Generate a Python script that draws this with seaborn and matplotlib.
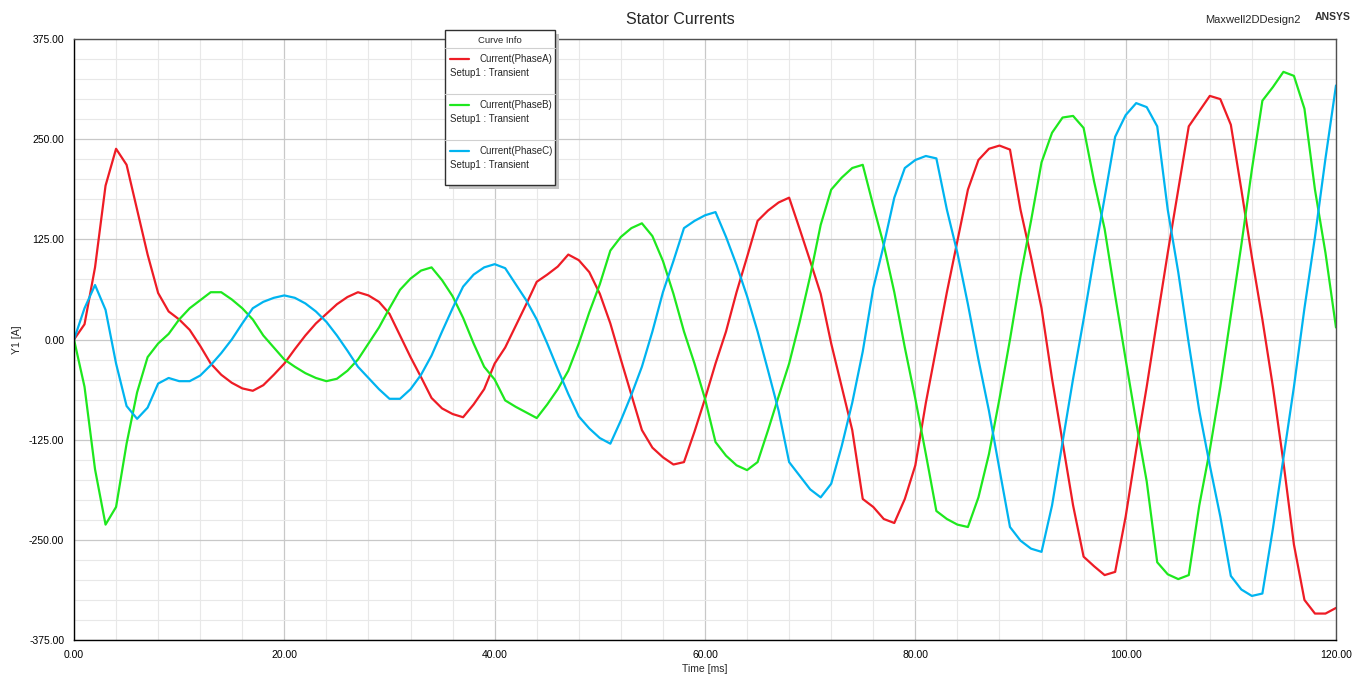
import numpy as np
import pandas as pd
import seaborn as sns
import matplotlib.pyplot as plt
from matplotlib.patches import Rectangle
from matplotlib.ticker import MultipleLocator, FormatStrFormatter

# sample times [ms], one sample per ms
time_ms = np.arange(0, 121)

# currents, [A]
phase_a = [0, 19, 90, 192, 238, 218, 162, 106, 58, 35, 25, 12, -8, -30, -44, -54, -61, -64, -57, -44,
           -30, -12, 5, 20, 32, 44, 53, 59, 55, 47, 32, 5, -22, -47, -73, -86, -93, -97, -81, -62,
           -30, -10, 17, 44, 72, 81, 91, 106, 99, 84, 57, 20, -25, -69, -113, -135, -147, -156, -153, -115,
           -74, -30, 10, 59, 103, 148, 161, 171, 177, 138, 98, 57, -5, -59, -113, -199, -209, -224, -229, -199,
           -157, -79, -10, 59, 123, 187, 224, 238, 242, 237, 162, 103, 39, -49, -128, -207, -271, -283, -294, -290,
           -221, -138, -59, 25, 108, 187, 266, 285, 304, 300, 268, 187, 103, 25, -59, -153, -256, -325, -342, -342, -335]
phase_b = [0, -59, -162, -231, -209, -130, -66, -22, -5, 7, 25, 39, 49, 59, 59, 50, 39, 25, 5, -10,
           -25, -34, -42, -48, -52, -49, -39, -25, -5, 15, 39, 62, 76, 86, 90, 74, 54, 27, -5, -34,
           -50, -76, -84, -91, -98, -81, -62, -39, -5, 34, 69, 111, 128, 139, 145, 129, 98, 57, 10, -30,
           -74, -128, -145, -157, -163, -153, -113, -71, -30, 22, 79, 143, 187, 202, 214, 218, 167, 118, 59, -10,
           -74, -143, -214, -224, -231, -234, -197, -143, -74, 0, 79, 148, 221, 258, 277, 279, 264, 197, 138, 55,
           -25, -103, -177, -278, -293, -299, -294, -207, -138, -59, 30, 118, 212, 298, 315, 334, 329, 288, 187, 108, 15]
phase_c = [0, 39, 68, 37, -30, -83, -99, -85, -55, -48, -52, -52, -45, -32, -17, 0, 20, 39, 47, 52,
           55, 52, 45, 35, 22, 5, -14, -34, -48, -62, -74, -74, -62, -44, -20, 10, 39, 66, 81, 90,
           94, 89, 69, 49, 25, -5, -37, -68, -96, -111, -123, -130, -101, -69, -34, 10, 59, 98, 139, 148,
           155, 159, 128, 93, 54, 10, -39, -89, -153, -170, -187, -197, -180, -133, -79, -15, 64, 118, 177, 214,
           224, 229, 226, 162, 108, 44, -25, -89, -162, -234, -251, -261, -265, -207, -128, -49, 25, 103, 177, 253,
           280, 295, 290, 266, 162, 84, -5, -89, -157, -221, -295, -312, -320, -317, -236, -148, -59, 39, 128, 226, 317]

curve_names = ["Current(PhaseA)", "Current(PhaseB)", "Current(PhaseC)"]
curve_colors = ["#ee1c25", "#1ee81e", "#00b4f0"]

df = pd.DataFrame({
    "time": np.tile(time_ms, 3),
    "current": phase_a + phase_b + phase_c,
    "curve": np.repeat(curve_names, len(time_ms)),
})

sns.set_style("white")
plt.rcParams['font.family'] = ['Liberation Sans', 'DejaVu Sans']

fig = plt.figure(figsize=(13.55, 6.81), dpi=100)
ax = fig.add_axes([74 / 1355, 1 - 640 / 681, (1336 - 74) / 1355, (640 - 39) / 681])

sns.lineplot(data=df, x="time", y="current", hue="curve", palette=curve_colors,
             linewidth=1.6, legend=False, ax=ax)

ax.set_xlim(0, 120)
ax.set_ylim(-375, 375)
ax.xaxis.set_major_locator(MultipleLocator(20))
ax.xaxis.set_minor_locator(MultipleLocator(4))
ax.yaxis.set_major_locator(MultipleLocator(125))
ax.yaxis.set_minor_locator(MultipleLocator(25))
ax.xaxis.set_major_formatter(FormatStrFormatter("%.2f"))
ax.yaxis.set_major_formatter(FormatStrFormatter("%.2f"))
ax.grid(which="major", color="#c8c8c8", linewidth=0.9)
ax.grid(which="minor", color="#e8e8e8", linewidth=0.8)
ax.set_axisbelow(True)
ax.tick_params(which="both", direction="out", labelsize=7.5, colors="#000000", pad=2)
ax.tick_params(which="major", length=5, width=0.8)
ax.tick_params(which="minor", length=4, width=0.8)
ax.tick_params(axis="x", which="both", length=5)
ax.set_xlabel("Time [ms]", fontsize=7.5, labelpad=3)
ax.set_ylabel("Y1 [A]", fontsize=7.5, labelpad=5)
for side in ["left", "bottom"]:
    ax.spines[side].set_color("#000000")
for side in ["top", "right"]:
    ax.spines[side].set_color("#505050")
for s in ax.spines.values():
    s.set_linewidth(1.0)

# header texts
fig.text(680 / 1355, 1 - 20 / 681, "Stator Currents", ha="center", va="center", fontsize=11.5)
fig.text(1205 / 1355, 1 - 20 / 681, "Maxwell2DDesign2", ha="left", va="center", fontsize=8)
fig.text(1315 / 1355, 1 - 17 / 681, "ANSYS", ha="left", va="center", fontsize=7.5,
         fontweight="bold", color="#333333")

# "Curve Info" box drawn in pixel coordinates on an overlay
ov = fig.add_axes([0, 0, 1, 1], zorder=5)
ov.set_xlim(0, 1355)
ov.set_ylim(681, 0)
ov.axis("off")
ov.add_patch(Rectangle((449, 34), 110, 155, facecolor="#c4c4c4", edgecolor="none"))
ov.add_patch(Rectangle((445, 30), 110, 155, facecolor="white", edgecolor="#303030", linewidth=1.0))
ov.text(500, 40.5, "Curve Info", ha="center", va="center", fontsize=6.8)
ov.plot([445, 555], [48, 48], color="#d0d0d0", linewidth=0.8)
for i, (name, col) in enumerate(zip(curve_names, curve_colors)):
    y0 = 59 + 46 * i
    ov.plot([450, 469], [y0, y0], color=col, linewidth=1.6)
    ov.text(479, y0, name, ha="left", va="center", fontsize=7)
    ov.text(450, y0 + 14, "Setup1 : Transient", ha="left", va="center", fontsize=7)
    if i < 2:
        ov.plot([445, 555], [y0 + 35, y0 + 35], color="#d0d0d0", linewidth=0.8)

fig.savefig("out.png", dpi=100)
